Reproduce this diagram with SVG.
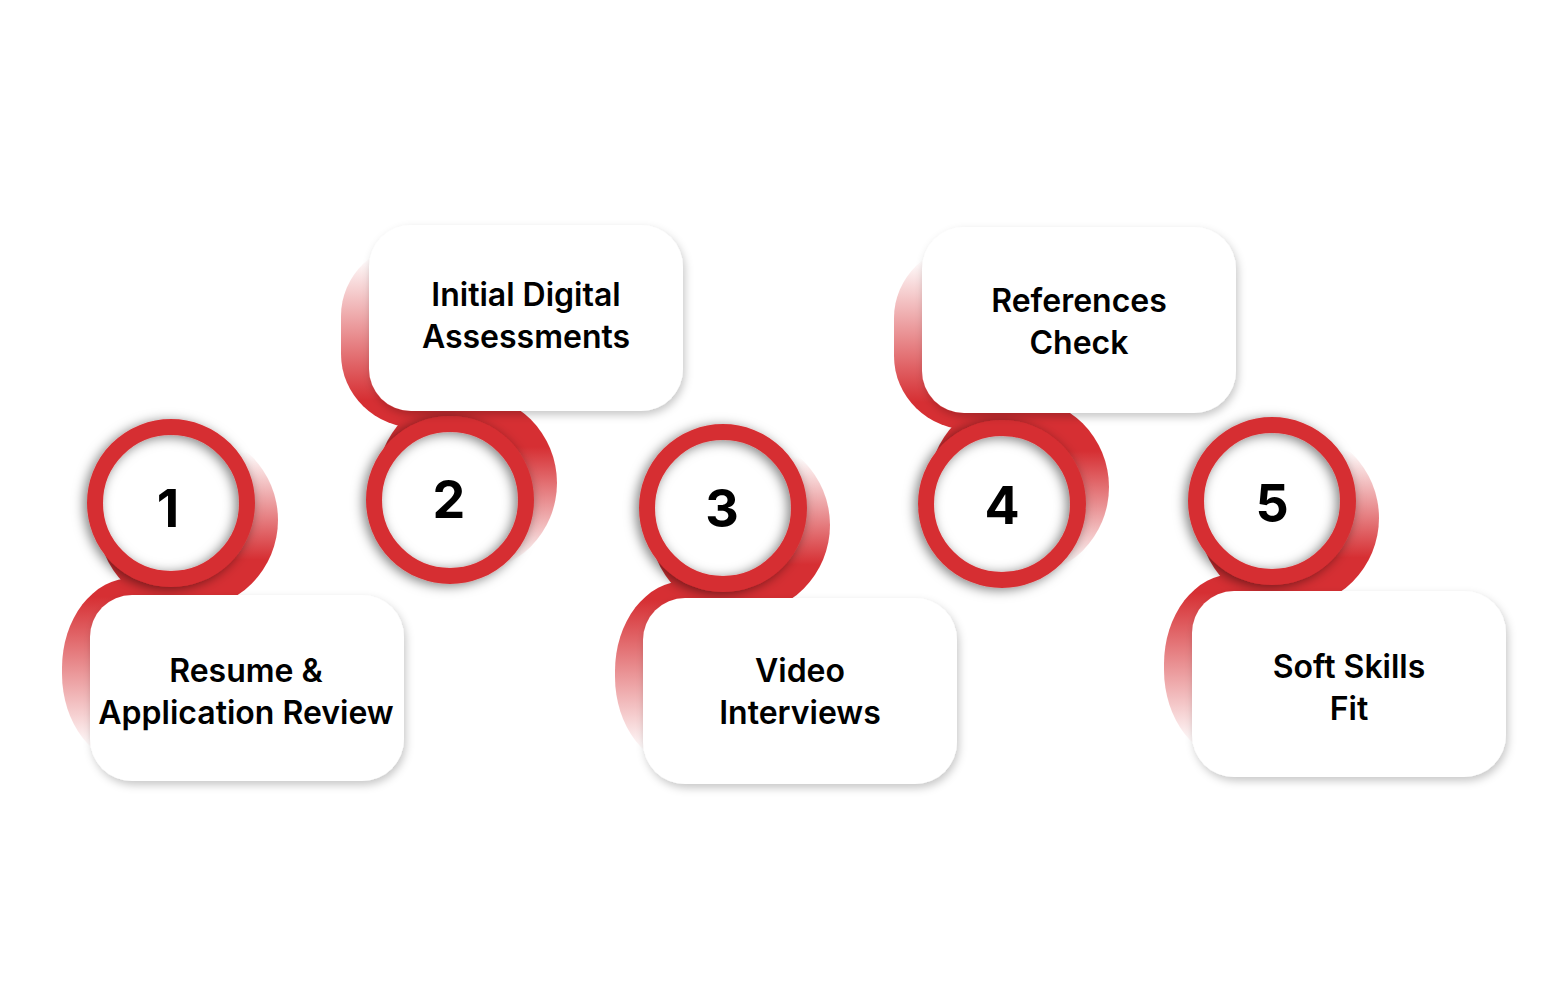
<svg xmlns="http://www.w3.org/2000/svg" width="1552" height="1008" viewBox="0 0 1552 1008">
<defs>
<style>
.lbl{font-family:Inter,"Noto Sans","Liberation Sans",sans-serif;font-weight:600;font-size:32px;fill:#000;text-anchor:middle}
.num{font-family:Inter,"Noto Sans","Liberation Sans",sans-serif;font-weight:700;font-size:52px;fill:#000;text-anchor:middle}
.ring{fill:none;stroke:#D62F33;stroke-width:16;filter:url(#ringShadow)}
.disc{fill:#fff}
.box{fill:#fff;filter:url(#boxShadow)}
</style>
<filter id="ringShadow" x="-30%" y="-30%" width="160%" height="160%">
<feDropShadow dx="-3" dy="2" stdDeviation="6" flood-color="#000" flood-opacity="0.5"/>
</filter>
<filter id="boxShadow" x="-20%" y="-20%" width="140%" height="150%">
<feDropShadow dx="2" dy="4" stdDeviation="4" flood-color="#000" flood-opacity="0.22"/>
</filter>
<linearGradient id="circUp" x1="0" y1="0" x2="0" y2="1">
<stop offset="0.12" stop-color="#D62F33" stop-opacity="0"/>
<stop offset="0.72" stop-color="#D62F33" stop-opacity="1"/>
</linearGradient>
<linearGradient id="boxDown" x1="0" y1="0" x2="0" y2="1">
<stop offset="0.1" stop-color="#D62F33" stop-opacity="1"/>
<stop offset="0.92" stop-color="#D62F33" stop-opacity="0"/>
</linearGradient>
<linearGradient id="circDown" x1="0" y1="0" x2="0" y2="1">
<stop offset="0.3" stop-color="#D62F33" stop-opacity="1"/>
<stop offset="0.95" stop-color="#D62F33" stop-opacity="0"/>
</linearGradient>
<linearGradient id="boxUp" x1="0" y1="0" x2="0" y2="1">
<stop offset="0.08" stop-color="#D62F33" stop-opacity="0"/>
<stop offset="0.85" stop-color="#D62F33" stop-opacity="1"/>
</linearGradient>
</defs>
<rect width="1552" height="1008" fill="#fff"/>
<g id="connectors"></g>

<g id="step1">
<rect x="62" y="578" width="180" height="186" rx="70" ry="90" fill="url(#boxDown)"/>
<circle cx="188" cy="520" r="90" fill="url(#circUp)"/>
<circle class="disc" cx="171" cy="503" r="70"/>
<circle class="ring" cx="171" cy="503" r="76"/>
<text class="num" x="168" y="527">1</text>
<rect class="box" x="90" y="595" width="314" height="186" rx="42"/>
<text class="lbl" x="246" y="682">Resume &amp;</text>
<text class="lbl" x="246" y="724">Application Review</text>
</g>

<g id="step2">
<rect x="341" y="242" width="180" height="186" rx="76" ry="74" fill="url(#boxUp)"/>
<circle cx="467" cy="483" r="90" fill="url(#circDown)"/>
<circle class="disc" cx="450" cy="500" r="70"/>
<circle class="ring" cx="450" cy="500" r="76"/>
<text class="num" x="449" y="518">2</text>
<rect class="box" x="369" y="225" width="314" height="186" rx="42"/>
<text class="lbl" x="526" y="306">Initial Digital</text>
<text class="lbl" x="526" y="348">Assessments</text>
</g>

<g id="step3">
<rect x="615" y="581" width="180" height="186" rx="70" ry="90" fill="url(#boxDown)"/>
<circle cx="740" cy="525" r="90" fill="url(#circUp)"/>
<circle class="disc" cx="723" cy="508" r="70"/>
<circle class="ring" cx="723" cy="508" r="76"/>
<text class="num" x="722" y="527">3</text>
<rect class="box" x="643" y="598" width="314" height="186" rx="42"/>
<text class="lbl" x="800" y="682">Video</text>
<text class="lbl" x="800" y="724">Interviews</text>
</g>

<g id="step4">
<rect x="894" y="244" width="180" height="186" rx="76" ry="74" fill="url(#boxUp)"/>
<circle cx="1019" cy="487" r="90" fill="url(#circDown)"/>
<circle class="disc" cx="1002" cy="504" r="70"/>
<circle class="ring" cx="1002" cy="504" r="76"/>
<text class="num" x="1002" y="524">4</text>
<rect class="box" x="922" y="227" width="314" height="186" rx="42"/>
<text class="lbl" x="1079" y="312">References</text>
<text class="lbl" x="1079" y="354">Check</text>
</g>

<g id="step5">
<rect x="1164" y="574" width="180" height="186" rx="70" ry="90" fill="url(#boxDown)"/>
<circle cx="1289" cy="518" r="90" fill="url(#circUp)"/>
<circle class="disc" cx="1272" cy="501" r="70"/>
<circle class="ring" cx="1272" cy="501" r="76"/>
<text class="num" x="1272" y="522">5</text>
<rect class="box" x="1192" y="591" width="314" height="186" rx="42"/>
<text class="lbl" x="1349" y="678">Soft Skills</text>
<text class="lbl" x="1349" y="720">Fit</text>
</g>
</svg>
